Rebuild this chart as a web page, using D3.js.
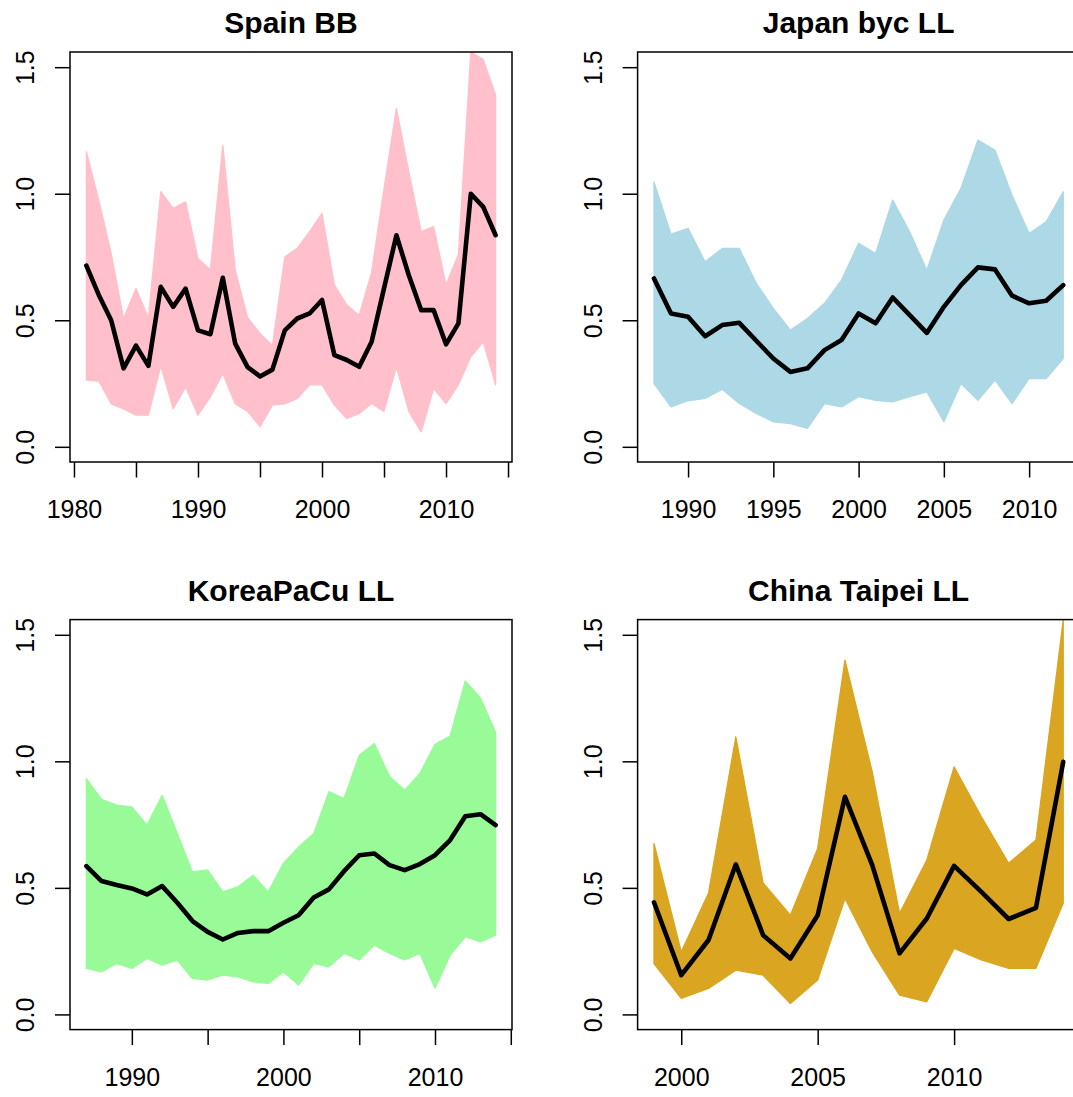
<!DOCTYPE html>
<html>
<head>
<meta charset="utf-8">
<script src="https://cdn.jsdelivr.net/npm/d3@7"></script>
<style>
  body { margin: 0; background: #fff; }
  svg { display: block; }
</style>
</head>
<body>
<div id="chart"></div>
<script>
// ------------------
// data
// ------------------

const spainYears = [1981, 1982, 1983, 1984, 1985, 1986, 1987, 1988, 1989, 1990, 1991, 1992, 1993, 1994, 1995, 1996, 1997,
    1998, 1999, 2000, 2001, 2002, 2003, 2004, 2005, 2006, 2007, 2008, 2009, 2010, 2011, 2012, 2013, 2014];
const spainMean = [0.716, 0.60, 0.50, 0.31, 0.40, 0.32, 0.632, 0.553, 0.625, 0.46, 0.445, 0.668, 0.408, 0.315, 0.278, 0.305, 0.46,
    0.507, 0.527, 0.58, 0.362, 0.343, 0.316, 0.415, 0.626, 0.836, 0.678, 0.54, 0.54, 0.405, 0.488, 1.0, 0.948, 0.836];
const spainHi = [1.166, 0.975, 0.764, 0.507, 0.626, 0.51, 1.008, 0.942, 0.968, 0.744, 0.70, 1.192, 0.70, 0.51, 0.448, 0.40, 0.75,
    0.784, 0.85, 0.922, 0.64, 0.56, 0.52, 0.69, 1.02, 1.337, 1.087, 0.85, 0.87, 0.64, 0.76, 1.56, 1.53, 1.39];
const spainLo = [0.264, 0.26, 0.17, 0.15, 0.125, 0.125, 0.32, 0.15, 0.237, 0.125, 0.197, 0.29, 0.17, 0.14, 0.08, 0.165, 0.17,
    0.19, 0.245, 0.245, 0.165, 0.112, 0.132, 0.171, 0.14, 0.316, 0.14, 0.059, 0.23, 0.171, 0.245, 0.356, 0.415, 0.245];

const japanYears = [1988, 1989, 1990, 1991, 1992, 1993, 1994, 1995, 1996, 1997, 1998, 1999, 2000,
    2001, 2002, 2003, 2004, 2005, 2006, 2007, 2008, 2009, 2010, 2011, 2012];
const japanMean = [0.665, 0.527, 0.514, 0.437, 0.481, 0.49, 0.419, 0.349, 0.296, 0.31, 0.382, 0.422, 0.527,
    0.488, 0.59, 0.52, 0.45, 0.553, 0.639, 0.709, 0.701, 0.597, 0.567, 0.577, 0.639];
const japanHi = [1.047, 0.84, 0.863, 0.731, 0.784, 0.784, 0.646, 0.547, 0.461, 0.507, 0.567, 0.659, 0.804,
    0.764, 0.975, 0.849, 0.698, 0.896, 1.021, 1.212, 1.172, 0.994, 0.843, 0.889, 1.008];
const japanLo = [0.25, 0.158, 0.182, 0.191, 0.227, 0.171, 0.132, 0.099, 0.092, 0.073, 0.171, 0.158, 0.198,
    0.184, 0.178, 0.198, 0.217, 0.099, 0.25, 0.184, 0.264, 0.171, 0.27, 0.27, 0.349];

const koreaYears = [1987, 1988, 1989, 1990, 1991, 1992, 1993, 1994, 1995, 1996, 1997, 1998, 1999, 2000,
    2001, 2002, 2003, 2004, 2005, 2006, 2007, 2008, 2009, 2010, 2011, 2012, 2013, 2014];
const koreaMean = [0.586, 0.527, 0.511, 0.498, 0.474, 0.507, 0.441, 0.369, 0.326, 0.296, 0.322, 0.329, 0.329, 0.362,
    0.392, 0.462, 0.494, 0.566, 0.629, 0.636, 0.59, 0.57, 0.594, 0.629, 0.689, 0.783, 0.791, 0.748];
const koreaHi = [0.932, 0.85, 0.827, 0.82, 0.748, 0.866, 0.715, 0.563, 0.571, 0.484, 0.504, 0.55, 0.484, 0.597,
    0.662, 0.715, 0.88, 0.853, 1.024, 1.07, 0.94, 0.886, 0.952, 1.067, 1.10, 1.318, 1.25, 1.114];
const koreaLo = [0.182, 0.168, 0.201, 0.182, 0.221, 0.195, 0.215, 0.142, 0.136, 0.155, 0.148, 0.129, 0.122, 0.168,
    0.116, 0.201, 0.188, 0.241, 0.215, 0.274, 0.241, 0.215, 0.241, 0.103, 0.234, 0.307, 0.287, 0.313];

const taipeiYears = [1999, 2000, 2001, 2002, 2003, 2004, 2005, 2006, 2007, 2008, 2009, 2010, 2011, 2012, 2013, 2014];
const taipeiMean = [0.443, 0.155, 0.294, 0.593, 0.313, 0.221, 0.392, 0.86, 0.59, 0.241, 0.379, 0.587, 0.484, 0.377, 0.421, 0.998];
const taipeiHi = [0.676, 0.247, 0.48, 1.097, 0.52, 0.392, 0.656, 1.40, 0.958, 0.399, 0.61, 0.978, 0.781, 0.597, 0.689, 1.558];
const taipeiLo = [0.201, 0.063, 0.103, 0.175, 0.155, 0.043, 0.136, 0.458, 0.247, 0.076, 0.05, 0.261, 0.215, 0.182, 0.182, 0.439];

const yTicks = [0, 0.5, 1.0, 1.5];

const panels = [
    { title: "Spain BB", col: 0, row: 0, color: "#FFC0CB", years: spainYears, mean: spainMean, hi: spainHi, lo: spainLo,
      ticks: [1980, 1985, 1990, 1995, 2000, 2005, 2010, 2015], labels: [1980, 1990, 2000, 2010] },
    { title: "Japan byc LL", col: 1, row: 0, color: "#ADD8E6", years: japanYears, mean: japanMean, hi: japanHi, lo: japanLo,
      ticks: [1990, 1995, 2000, 2005, 2010], labels: [1990, 1995, 2000, 2005, 2010] },
    { title: "KoreaPaCu LL", col: 0, row: 1, color: "#98FB98", years: koreaYears, mean: koreaMean, hi: koreaHi, lo: koreaLo,
      ticks: [1990, 1995, 2000, 2005, 2010, 2015], labels: [1990, 2000, 2010] },
    { title: "China Taipei LL", col: 1, row: 1, color: "#DAA520", years: taipeiYears, mean: taipeiMean, hi: taipeiHi, lo: taipeiLo,
      ticks: [2000, 2005, 2010], labels: [2000, 2005, 2010] }
];

// ------------------
// layout
// ------------------

const width = 1073;
const height = 1097;
const step = 567.6;
const box = { left: 70, right: 512, top: 52, bottom: 462 };
const font = "'Liberation Sans', Arial, sans-serif";

const svg = d3.select("#chart")
    .append("svg")
    .attr("width", width)
    .attr("height", height);

panels.forEach((p, k) => {

    const g = svg.append("g")
        .attr("transform", `translate(${p.col * step},${p.row * step})`);

    const x0 = d3.min(p.years), x1 = d3.max(p.years);
    const pad = (x1 - x0) * 0.04;

    const x = d3.scaleLinear()
        .domain([x0 - pad, x1 + pad])
        .range([box.left, box.right]);

    const y = d3.scaleLinear()
        .domain([-0.06, 1.56])
        .range([box.bottom, box.top]);

    g.append("clipPath")
        .attr("id", "clip" + k)
        .append("rect")
        .attr("x", box.left)
        .attr("y", box.top)
        .attr("width", box.right - box.left)
        .attr("height", box.bottom - box.top);

    const plot = g.append("g").attr("clip-path", `url(#clip${k})`);

    // band of runs
    const band = d3.area()
        .x((d, i) => x(p.years[i]))
        .y0((d, i) => y(p.lo[i]))
        .y1((d, i) => y(p.hi[i]));

    plot.append("path")
        .datum(p.hi)
        .attr("d", band)
        .attr("fill", p.color)
        .attr("stroke", p.color)
        .attr("stroke-width", 1.3)
        .attr("stroke-linejoin", "round");

    // mean line
    const line = d3.line()
        .x((d, i) => x(p.years[i]))
        .y(d => y(d));

    plot.append("path")
        .datum(p.mean)
        .attr("d", line)
        .attr("fill", "none")
        .attr("stroke", "#000")
        .attr("stroke-width", 4.6)
        .attr("stroke-linejoin", "round")
        .attr("stroke-linecap", "round");

    // box
    g.append("rect")
        .attr("x", box.left)
        .attr("y", box.top)
        .attr("width", box.right - box.left)
        .attr("height", box.bottom - box.top)
        .attr("fill", "none")
        .attr("stroke", "#000")
        .attr("stroke-width", 1.5);

    // x axis
    const xAxis = g.append("g")
        .attr("transform", `translate(0,${box.bottom})`)
        .call(d3.axisBottom(x)
            .tickValues(p.ticks)
            .tickSize(15.5)
            .tickSizeOuter(0)
            .tickFormat(d => p.labels.includes(d) ? d : ""));

    xAxis.select(".domain").remove();
    xAxis.selectAll("line").attr("stroke-width", 1.5);
    xAxis.selectAll("text")
        .attr("y", 56)
        .attr("dy", 0)
        .attr("fill", "#000")
        .style("font-family", font)
        .style("font-size", "25px");

    // y axis
    const yAxis = g.append("g")
        .attr("transform", `translate(${box.left},0)`)
        .call(d3.axisLeft(y)
            .tickValues(yTicks)
            .tickSize(15)
            .tickSizeOuter(0)
            .tickFormat(d3.format(".1f")));

    yAxis.select(".domain").remove();
    yAxis.selectAll("line").attr("stroke-width", 1.5);
    yAxis.selectAll("text")
        .attr("transform", "rotate(-90)")
        .attr("x", 0)
        .attr("y", -36)
        .attr("dy", 0)
        .attr("text-anchor", "middle")
        .attr("fill", "#000")
        .style("font-family", font)
        .style("font-size", "25px");

    // title
    g.append("text")
        .attr("x", (box.left + box.right) / 2)
        .attr("y", 33)
        .attr("text-anchor", "middle")
        .style("font-family", font)
        .style("font-size", "30px")
        .style("font-weight", "bold")
        .text(p.title);
});
</script>
</body>
</html>
